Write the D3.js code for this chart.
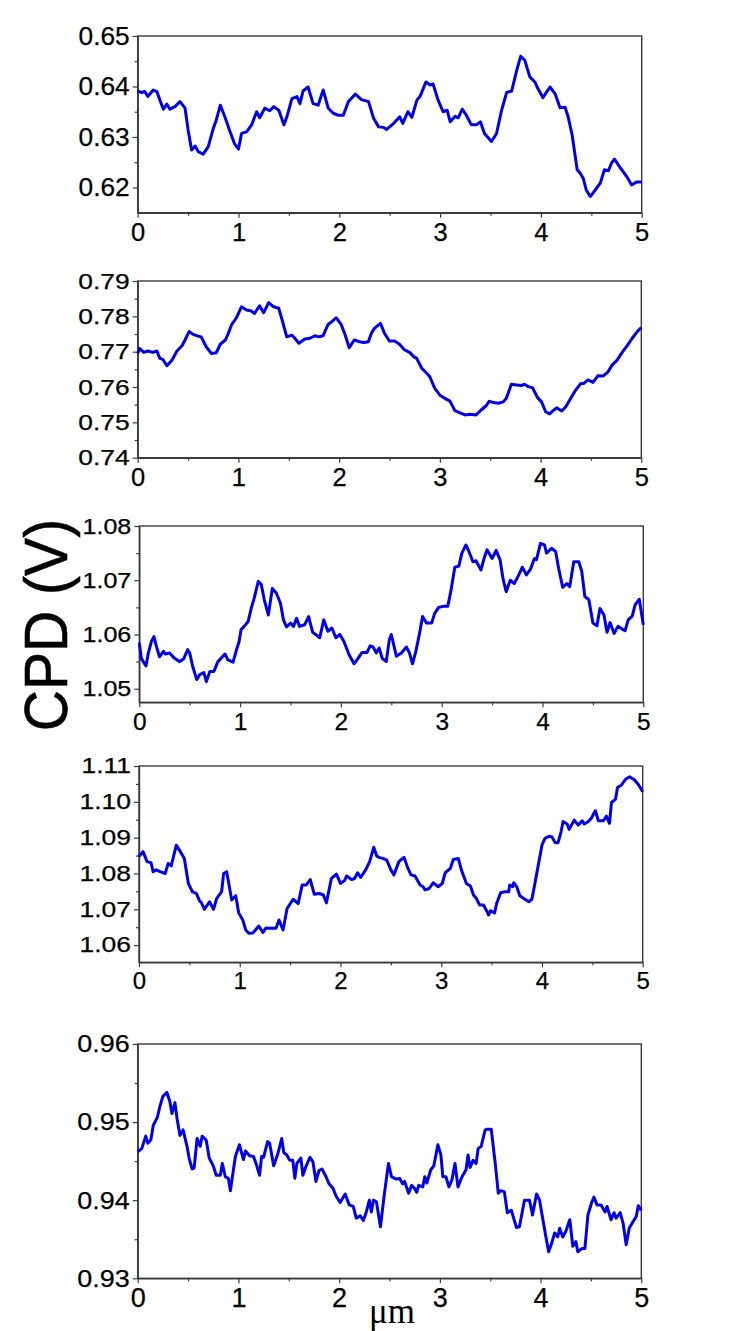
<!DOCTYPE html>
<html>
<head>
<meta charset="utf-8">
<script src="https://cdn.jsdelivr.net/npm/d3@7"></script>
<style>
  body { margin: 0; background: #fff; }
  svg { display: block; }
</style>
</head>
<body>
<div id="chart"></div>
<script>
// CPD line profiles, [position (um), CPD (V)]
const trace1 = [[0,0.6391],[0.04,0.6388],[0.07,0.639],[0.1,0.638],[0.155,0.6393],[0.19,0.639],[0.22,0.6373],[0.255,0.6355],[0.29,0.6365],[0.32,0.6355],[0.37,0.636],[0.42,0.637],[0.47,0.6357],[0.5,0.6314],[0.535,0.6274],[0.57,0.6282],[0.6,0.6271],[0.65,0.6266],[0.7,0.6281],[0.75,0.6317],[0.78,0.6334],[0.82,0.6363],[0.87,0.6337],[0.91,0.6314],[0.96,0.6287],[1.0,0.6276],[1.03,0.6307],[1.08,0.631],[1.13,0.6324],[1.18,0.635],[1.21,0.6338],[1.26,0.6357],[1.31,0.6352],[1.35,0.636],[1.4,0.6353],[1.45,0.6324],[1.48,0.634],[1.53,0.6376],[1.58,0.638],[1.61,0.6366],[1.64,0.6391],[1.69,0.6399],[1.74,0.6366],[1.79,0.6363],[1.84,0.6393],[1.89,0.6357],[1.94,0.6347],[1.99,0.6343],[2.04,0.6343],[2.09,0.637],[2.16,0.6385],[2.22,0.6374],[2.29,0.637],[2.34,0.6337],[2.39,0.632],[2.44,0.6319],[2.47,0.6315],[2.54,0.6327],[2.6,0.634],[2.63,0.6327],[2.68,0.635],[2.72,0.6339],[2.77,0.6373],[2.8,0.638],[2.86,0.6409],[2.9,0.6403],[2.93,0.6405],[2.98,0.6373],[3.03,0.635],[3.07,0.6353],[3.1,0.633],[3.15,0.6341],[3.18,0.6338],[3.22,0.6355],[3.26,0.6343],[3.31,0.6324],[3.36,0.6324],[3.4,0.633],[3.44,0.6307],[3.51,0.6291],[3.56,0.6307],[3.61,0.6353],[3.66,0.6388],[3.71,0.6391],[3.76,0.6432],[3.8,0.646],[3.84,0.6452],[3.89,0.6419],[3.94,0.6409],[3.97,0.6396],[4.02,0.6378],[4.09,0.6399],[4.14,0.6386],[4.19,0.6358],[4.24,0.6359],[4.27,0.634],[4.31,0.6304],[4.36,0.6235],[4.39,0.6228],[4.42,0.6218],[4.45,0.6195],[4.49,0.6182],[4.54,0.6195],[4.59,0.6209],[4.63,0.6235],[4.67,0.6233],[4.7,0.6248],[4.73,0.6256],[4.78,0.6241],[4.85,0.6222],[4.9,0.6205],[4.95,0.6211],[5.0,0.6211]];

const trace2 = [[0,0.7695],[0.02,0.7709],[0.06,0.7698],[0.1,0.7702],[0.15,0.7698],[0.19,0.7702],[0.22,0.7681],[0.25,0.7678],[0.29,0.766],[0.34,0.7676],[0.39,0.7702],[0.44,0.7717],[0.47,0.7733],[0.51,0.7757],[0.55,0.7749],[0.6,0.7744],[0.63,0.7742],[0.68,0.7714],[0.73,0.7695],[0.78,0.7697],[0.82,0.7721],[0.87,0.7733],[0.9,0.7752],[0.93,0.7775],[0.98,0.7796],[1.03,0.7827],[1.08,0.7818],[1.13,0.7815],[1.16,0.7808],[1.21,0.783],[1.25,0.781],[1.3,0.7839],[1.35,0.7827],[1.4,0.7823],[1.43,0.7794],[1.48,0.7742],[1.53,0.7747],[1.56,0.7738],[1.6,0.7724],[1.66,0.7736],[1.71,0.7738],[1.76,0.7745],[1.8,0.7742],[1.84,0.7745],[1.89,0.7777],[1.92,0.7783],[1.97,0.7796],[2.02,0.7777],[2.06,0.7747],[2.1,0.7711],[2.15,0.7733],[2.2,0.7728],[2.25,0.7726],[2.29,0.7728],[2.32,0.7752],[2.35,0.7766],[2.41,0.778],[2.45,0.7752],[2.5,0.773],[2.55,0.773],[2.6,0.7721],[2.65,0.7705],[2.7,0.7698],[2.74,0.7686],[2.77,0.7681],[2.82,0.7653],[2.87,0.7639],[2.9,0.7629],[2.95,0.7596],[3.0,0.7577],[3.05,0.7568],[3.1,0.756],[3.15,0.7533],[3.2,0.7527],[3.25,0.7521],[3.3,0.7523],[3.36,0.7521],[3.41,0.7535],[3.46,0.7547],[3.49,0.756],[3.53,0.7556],[3.58,0.7554],[3.63,0.7558],[3.66,0.7568],[3.71,0.7608],[3.76,0.7606],[3.81,0.7604],[3.84,0.7608],[3.88,0.7601],[3.92,0.7598],[3.97,0.757],[4.01,0.7558],[4.05,0.753],[4.09,0.7524],[4.12,0.7532],[4.16,0.7541],[4.21,0.7532],[4.25,0.7544],[4.3,0.7568],[4.35,0.7592],[4.4,0.761],[4.43,0.761],[4.47,0.762],[4.52,0.7613],[4.57,0.7632],[4.62,0.7631],[4.67,0.7643],[4.71,0.7662],[4.76,0.7676],[4.81,0.7698],[4.86,0.7717],[4.91,0.7738],[4.96,0.7757],[5.0,0.7768]];

const trace3 = [[0,1.0585],[0.02,1.0556],[0.066,1.0542],[0.09,1.0566],[0.12,1.0587],[0.145,1.0596],[0.17,1.0578],[0.2,1.0559],[0.24,1.0569],[0.26,1.0564],[0.3,1.0566],[0.35,1.0556],[0.4,1.055],[0.44,1.0555],[0.48,1.0572],[0.5,1.0566],[0.53,1.0541],[0.57,1.0517],[0.6,1.0526],[0.64,1.053],[0.665,1.0513],[0.7,1.0532],[0.74,1.0532],[0.78,1.055],[0.81,1.0556],[0.85,1.0564],[0.88,1.0553],[0.93,1.0549],[0.96,1.0569],[0.99,1.0587],[1.01,1.0609],[1.04,1.0615],[1.08,1.0624],[1.11,1.0648],[1.14,1.0667],[1.18,1.0698],[1.21,1.0692],[1.24,1.0664],[1.28,1.0636],[1.32,1.0685],[1.36,1.0676],[1.4,1.0658],[1.43,1.0627],[1.46,1.0614],[1.5,1.0621],[1.53,1.0615],[1.56,1.063],[1.59,1.0615],[1.64,1.0618],[1.68,1.0633],[1.72,1.0604],[1.75,1.06],[1.79,1.0594],[1.83,1.0627],[1.87,1.0606],[1.91,1.0612],[1.95,1.0594],[1.99,1.06],[2.03,1.0587],[2.08,1.0563],[2.13,1.0546],[2.17,1.0556],[2.21,1.0567],[2.26,1.0567],[2.29,1.0579],[2.32,1.0577],[2.35,1.0566],[2.38,1.0575],[2.41,1.0556],[2.45,1.055],[2.48,1.059],[2.5,1.06],[2.55,1.056],[2.6,1.0566],[2.65,1.0577],[2.68,1.0566],[2.71,1.0546],[2.74,1.0566],[2.78,1.0602],[2.81,1.0633],[2.85,1.0621],[2.9,1.0621],[2.93,1.0639],[2.97,1.065],[3.02,1.0652],[3.06,1.0652],[3.09,1.0679],[3.13,1.0724],[3.17,1.0726],[3.2,1.075],[3.24,1.0765],[3.27,1.0753],[3.31,1.0734],[3.34,1.0736],[3.39,1.0719],[3.42,1.074],[3.45,1.0756],[3.5,1.074],[3.54,1.0755],[3.58,1.0737],[3.61,1.0701],[3.64,1.0679],[3.68,1.07],[3.72,1.0694],[3.76,1.0708],[3.8,1.0724],[3.84,1.071],[3.88,1.072],[3.92,1.074],[3.94,1.0738],[3.98,1.0768],[4.02,1.0765],[4.04,1.075],[4.09,1.0759],[4.13,1.0753],[4.16,1.0722],[4.2,1.0687],[4.24,1.0694],[4.27,1.0688],[4.31,1.0734],[4.36,1.0734],[4.39,1.0716],[4.42,1.067],[4.46,1.0664],[4.5,1.0621],[4.54,1.0616],[4.57,1.0648],[4.61,1.0636],[4.64,1.0604],[4.67,1.0622],[4.71,1.0602],[4.75,1.0615],[4.79,1.061],[4.82,1.0607],[4.85,1.0627],[4.89,1.0634],[4.92,1.0655],[4.96,1.0665],[5.0,1.0618]];

const trace4 = [[0,1.0847],[0.04,1.0861],[0.08,1.0833],[0.12,1.083],[0.14,1.0805],[0.17,1.081],[0.21,1.0805],[0.26,1.08],[0.29,1.0828],[0.32,1.0821],[0.37,1.0879],[0.41,1.0861],[0.45,1.0842],[0.49,1.0772],[0.53,1.0749],[0.57,1.0744],[0.6,1.0724],[0.62,1.0718],[0.65,1.07],[0.7,1.0721],[0.74,1.07],[0.77,1.073],[0.82,1.0749],[0.84,1.08],[0.87,1.0805],[0.89,1.0774],[0.92,1.0726],[0.96,1.0738],[0.99,1.069],[1.03,1.067],[1.06,1.0642],[1.09,1.0633],[1.13,1.0634],[1.19,1.0653],[1.23,1.0635],[1.26,1.0648],[1.31,1.0647],[1.36,1.0647],[1.39,1.067],[1.43,1.0642],[1.47,1.0702],[1.53,1.0728],[1.58,1.0716],[1.62,1.0768],[1.66,1.0768],[1.7,1.0783],[1.74,1.0742],[1.79,1.0744],[1.83,1.074],[1.86,1.0718],[1.91,1.0786],[1.96,1.0798],[2.0,1.0772],[2.04,1.078],[2.06,1.0793],[2.11,1.0783],[2.14,1.0786],[2.17,1.0802],[2.2,1.0789],[2.25,1.081],[2.29,1.0833],[2.33,1.0873],[2.36,1.0849],[2.38,1.0845],[2.42,1.0842],[2.46,1.0837],[2.5,1.081],[2.53,1.0796],[2.58,1.0833],[2.63,1.0845],[2.67,1.0814],[2.7,1.0796],[2.74,1.0793],[2.79,1.0768],[2.82,1.0763],[2.84,1.0754],[2.88,1.0758],[2.92,1.0774],[2.97,1.0763],[3.01,1.0772],[3.04,1.0802],[3.09,1.0814],[3.12,1.0839],[3.17,1.0842],[3.2,1.081],[3.25,1.0772],[3.29,1.0765],[3.32,1.074],[3.35,1.073],[3.38,1.0712],[3.42,1.0712],[3.45,1.0696],[3.47,1.0684],[3.49,1.0696],[3.53,1.069],[3.55,1.0716],[3.59,1.0746],[3.63,1.0749],[3.67,1.0749],[3.68,1.0768],[3.71,1.0763],[3.72,1.0774],[3.75,1.0763],[3.78,1.0738],[3.82,1.073],[3.87,1.0721],[3.9,1.0728],[3.93,1.0772],[3.97,1.0833],[4.0,1.0879],[4.03,1.0898],[4.07,1.0904],[4.1,1.0902],[4.13,1.0886],[4.16,1.0886],[4.19,1.0917],[4.21,1.0945],[4.25,1.0938],[4.27,1.0923],[4.32,1.0949],[4.36,1.0935],[4.4,1.0947],[4.42,1.0938],[4.46,1.0945],[4.49,1.0954],[4.53,1.0975],[4.56,1.0947],[4.61,1.0947],[4.64,1.096],[4.67,1.094],[4.69,1.0998],[4.73,1.1007],[4.75,1.104],[4.79,1.1047],[4.83,1.1063],[4.87,1.107],[4.92,1.1061],[4.96,1.1047],[5.0,1.1028]];

const trace5 = [[0,0.9462],[0.04,0.9466],[0.08,0.9482],[0.1,0.9473],[0.13,0.9477],[0.155,0.9496],[0.195,0.9506],[0.22,0.952],[0.25,0.9533],[0.29,0.9538],[0.32,0.9526],[0.34,0.9511],[0.37,0.9525],[0.39,0.9505],[0.42,0.9483],[0.45,0.949],[0.49,0.9469],[0.51,0.9454],[0.54,0.944],[0.56,0.9441],[0.59,0.9479],[0.62,0.9469],[0.64,0.9482],[0.68,0.9477],[0.71,0.9454],[0.75,0.9444],[0.78,0.9432],[0.82,0.9432],[0.84,0.9447],[0.87,0.943],[0.9,0.9428],[0.92,0.9412],[0.97,0.9456],[1.01,0.9471],[1.05,0.9452],[1.07,0.9463],[1.11,0.9457],[1.15,0.9456],[1.18,0.9445],[1.21,0.9432],[1.23,0.9456],[1.25,0.9455],[1.29,0.9475],[1.31,0.9473],[1.35,0.9444],[1.39,0.9459],[1.43,0.9479],[1.45,0.9461],[1.48,0.9458],[1.51,0.9451],[1.54,0.9451],[1.56,0.9428],[1.58,0.9447],[1.62,0.9454],[1.64,0.9432],[1.67,0.9443],[1.71,0.9455],[1.74,0.9449],[1.77,0.9424],[1.8,0.9438],[1.83,0.944],[1.87,0.943],[1.9,0.9421],[1.94,0.9415],[1.97,0.9405],[2.01,0.9397],[2.06,0.9408],[2.1,0.9394],[2.14,0.9392],[2.17,0.9377],[2.21,0.938],[2.24,0.9374],[2.27,0.9385],[2.3,0.94],[2.32,0.9385],[2.34,0.94],[2.37,0.9398],[2.41,0.9366],[2.45,0.9409],[2.49,0.9447],[2.52,0.943],[2.57,0.9427],[2.6,0.9428],[2.63,0.9421],[2.65,0.9424],[2.69,0.9409],[2.72,0.9419],[2.75,0.9415],[2.77,0.941],[2.79,0.9419],[2.83,0.9417],[2.85,0.943],[2.87,0.9422],[2.91,0.9439],[2.94,0.9444],[2.98,0.9471],[3.01,0.9458],[3.03,0.943],[3.06,0.943],[3.09,0.9417],[3.12,0.9426],[3.15,0.9447],[3.18,0.9417],[3.22,0.943],[3.26,0.9439],[3.28,0.9458],[3.3,0.9442],[3.33,0.9451],[3.36,0.9447],[3.38,0.9466],[3.41,0.9469],[3.45,0.949],[3.47,0.9491],[3.51,0.9491],[3.55,0.9447],[3.58,0.9409],[3.6,0.9412],[3.64,0.9411],[3.67,0.9384],[3.71,0.9387],[3.76,0.9365],[3.79,0.9366],[3.84,0.94],[3.89,0.94],[3.92,0.9381],[3.96,0.9408],[3.99,0.94],[4.03,0.937],[4.05,0.9355],[4.08,0.9334],[4.11,0.9345],[4.14,0.9358],[4.17,0.9353],[4.19,0.9364],[4.22,0.9353],[4.25,0.936],[4.29,0.9375],[4.32,0.9341],[4.35,0.9347],[4.37,0.9334],[4.41,0.9338],[4.44,0.9338],[4.47,0.9381],[4.51,0.9398],[4.53,0.9404],[4.56,0.9394],[4.6,0.9394],[4.64,0.9385],[4.66,0.9392],[4.7,0.9375],[4.73,0.9384],[4.75,0.9377],[4.79,0.9384],[4.82,0.937],[4.85,0.9343],[4.88,0.9364],[4.92,0.9373],[4.95,0.9379],[4.97,0.9393],[5.0,0.9387]];

// axis values
const xDomain = [0, 5];
const xTicks = [0, 1, 2, 3, 4, 5];
const xMinor = [0.5, 1.5, 2.5, 3.5, 4.5];
const yDomain1 = [0.615, 0.65], yTicks1 = [0.62, 0.63, 0.64, 0.65];
const yDomain2 = [0.74, 0.79],  yTicks2 = [0.74, 0.75, 0.76, 0.77, 0.78, 0.79];
const yDomain3 = [1.0475, 1.08], yTicks3 = [1.05, 1.06, 1.07, 1.08];
const yDomain4 = [1.0552, 1.11], yTicks4 = [1.06, 1.07, 1.08, 1.09, 1.10, 1.11];
const yDomain5 = [0.93, 0.96],  yTicks5 = [0.93, 0.94, 0.95, 0.96];
const yTitle = "CPD (V)";
const xTitle = "μm";

// panel boxes (pixels) and label sizing
const panels = [
  { trace: trace1, dom: yDomain1, ticks: yTicks1, l: 137.7, r: 641.7, t: 36,  b: 212.7,  yfs: 25.5, ys: 1.03, xfs: 25.5 },
  { trace: trace2, dom: yDomain2, ticks: yTicks2, l: 137.7, r: 641.3, t: 281, b: 457.7,  yfs: 22, ys: 1.2, xfs: 25.5 },
  { trace: trace3, dom: yDomain3, ticks: yTicks3, l: 139.3, r: 643.3, t: 526, b: 702.3,  yfs: 22, ys: 1.14, xfs: 24.5 },
  { trace: trace4, dom: yDomain4, ticks: yTicks4, l: 139,   r: 642.7, t: 766, b: 962.3,  yfs: 21.5, ys: 1.23, xfs: 24 },
  { trace: trace5, dom: yDomain5, ticks: yTicks5, l: 137.7, r: 641.3, t: 1044, b: 1278.3, yfs: 24.5, ys: 1.1, xfs: 27 }
];

const W = 731, H = 1331;
const axisColor = "#3a3a3a";
const lineColor = "#0000e8";
const font = "'Liberation Sans', Arial, sans-serif";

const svg = d3.select("#chart").append("svg")
  .attr("width", W).attr("height", H)
  .style("background", "#fff");

function stretch(sel, k) {
  sel.each(function () {
    const w = this.getComputedTextLength();
    d3.select(this).attr("textLength", w * k).attr("lengthAdjust", "spacingAndGlyphs");
  });
}

panels.forEach(p => {
  const x = d3.scaleLinear().domain(xDomain).range([p.l, p.r]);
  const y = d3.scaleLinear().domain(p.dom).range([p.b, p.t]);
  const g = svg.append("g");

  // frame
  g.append("rect")
    .attr("x", p.l).attr("y", p.t)
    .attr("width", p.r - p.l).attr("height", p.b - p.t)
    .attr("fill", "none").attr("stroke", axisColor).attr("stroke-width", 1.4);

  // minor ticks
  const minorY = d3.range(p.ticks.length - 1).map(i => (p.ticks[i] + p.ticks[i + 1]) / 2);
  g.append("g").attr("transform", `translate(0,${p.b})`)
    .call(d3.axisBottom(x).tickValues(xMinor).tickSize(3).tickSizeOuter(0).tickFormat(""))
    .call(a => a.select(".domain").remove());
  g.append("g").attr("transform", `translate(${p.l},0)`)
    .call(d3.axisLeft(y).tickValues(minorY).tickSize(3).tickSizeOuter(0).tickFormat(""))
    .call(a => a.select(".domain").remove());

  // major axes
  const xa = g.append("g").attr("transform", `translate(0,${p.b})`)
    .call(d3.axisBottom(x).tickValues(xTicks).tickSize(5).tickPadding(5).tickSizeOuter(0).tickFormat(d3.format("d")));
  xa.selectAll("text").attr("font-size", p.xfs).attr("font-family", font)
    .attr("fill", "#000").attr("stroke", "#000").attr("stroke-width", 0.25);

  const ya = g.append("g").attr("transform", `translate(${p.l},0)`)
    .call(d3.axisLeft(y).tickValues(p.ticks).tickSize(5).tickPadding(3).tickSizeOuter(0).tickFormat(d3.format(".2f")));
  ya.selectAll("text").attr("font-size", p.yfs).attr("font-family", font)
    .attr("fill", "#000").attr("stroke", "#000").attr("stroke-width", 0.25)
    .call(stretch, p.ys);

  g.selectAll(".domain").attr("stroke", axisColor).attr("stroke-width", 1.4);
  g.selectAll(".tick line").attr("stroke", axisColor).attr("stroke-width", 1.2);

  // profile
  g.append("path")
    .datum(p.trace)
    .attr("fill", "none")
    .attr("stroke", lineColor)
    .attr("stroke-width", 3)
    .attr("stroke-linejoin", "round")
    .attr("d", d3.line().x(d => x(d[0])).y(d => y(d[1])));
});

// axis titles
svg.append("text")
  .attr("transform", "translate(67,625) rotate(-90)")
  .attr("text-anchor", "middle")
  .attr("font-family", font)
  .attr("font-size", 62)
  .attr("fill", "#000")
  .attr("stroke", "#000").attr("stroke-width", 0.6)
  .text(yTitle)
  .call(stretch, 0.92);

svg.append("text")
  .attr("x", 392).attr("y", 1323)
  .attr("text-anchor", "middle")
  .attr("font-family", "'Liberation Serif', 'Times New Roman', serif")
  .attr("font-size", 35)
  .attr("fill", "#000")
  .text(xTitle);
</script>
</body>
</html>
